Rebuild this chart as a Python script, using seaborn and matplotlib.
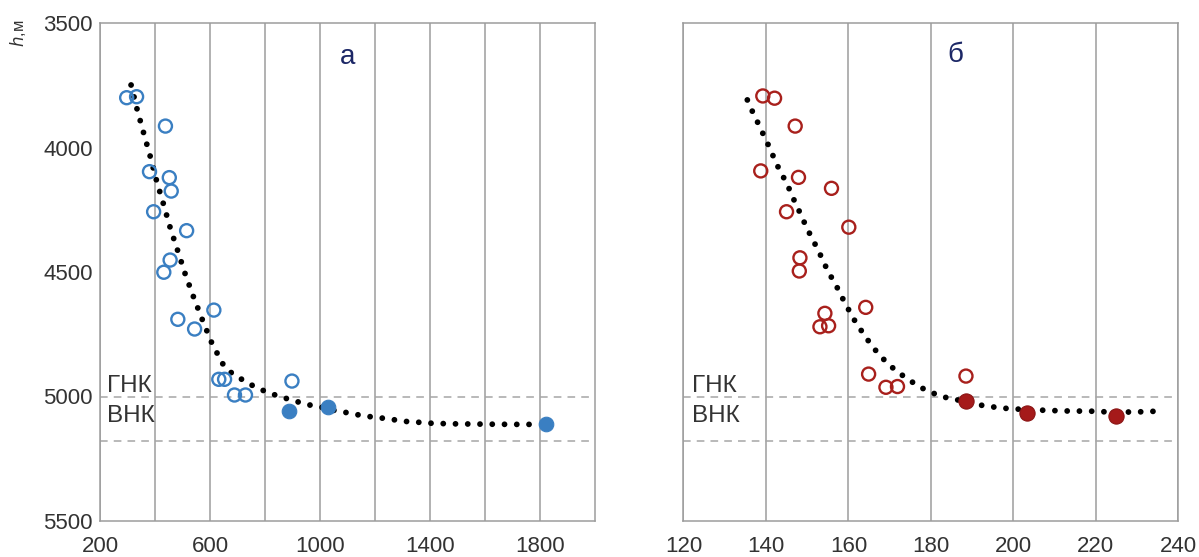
import matplotlib
matplotlib.use("Agg")
import matplotlib.pyplot as plt
from matplotlib.ticker import FixedLocator
import seaborn as sns

# ---------------- data ----------------
left_open_x = [297, 333, 438, 380, 452, 459, 395, 515, 455, 432, 483, 544, 614, 632, 653, 689, 729, 898]
left_open_y = [3800, 3796, 3914, 4097, 4121, 4175, 4258, 4334, 4452, 4501, 4690, 4729, 4653, 4931, 4931, 4994, 4994, 4938]
left_fill_x = [886, 1029, 1820]
left_fill_y = [5058, 5041, 5112]
left_curve_x = [313, 335, 359, 383, 406, 431, 456, 483, 511, 541, 574, 608, 650, 683, 720, 758, 796, 837,
                878, 921, 962, 1005, 1043, 1089, 1135, 1182, 1228, 1273, 1319, 1366, 1412, 1500, 1600, 1700, 1800]
left_curve_y = [3749, 3847, 3943, 4037, 4135, 4228, 4325, 4416, 4512, 4603, 4697, 4789, 4876, 4910, 4934, 4958,
                4977, 4994, 5008, 5022, 5034, 5043, 5054, 5063, 5073, 5081, 5087, 5094, 5101, 5104, 5108, 5110,
                5111, 5112, 5112]

right_open_x = [139.25, 142.1, 147.1, 138.75, 147.9, 155.9, 145.0, 160.1, 148.25, 148.1,
                154.3, 153.1, 155.2, 164.2, 164.9, 169.1, 171.9, 188.5]
right_open_y = [3793, 3802, 3914, 4094, 4120, 4164, 4258, 4320, 4443, 4496,
                4666, 4720, 4716, 4642, 4910, 4963, 4960, 4918]
right_fill_x = [188.5, 203.2, 224.8]
right_fill_y = [5017, 5065, 5078]
right_curve_x = [135.5, 136.75, 138, 139.25, 140.5, 141.75, 143, 144.4, 145.7, 146.9, 148.2, 149.4, 150.7,
                 152.1, 153.4, 154.7, 156.1, 157.6, 158.9, 160.4, 161.9, 163.7, 165.4, 167.3, 169.5, 171.8,
                 174.5, 177.2, 180.0, 182.8, 185.7, 188.8, 191.8, 194.6, 197.6, 200.6, 203.6, 207.0, 212.2,
                 218.8, 224.3, 230.0, 236.6]
right_curve_y = [3809, 3856, 3899, 3943, 3987, 4034, 4080, 4124, 4168, 4214, 4260, 4304, 4349,
                 4394, 4438, 4485, 4528, 4572, 4616, 4662, 4706, 4749, 4790, 4829, 4867, 4900,
                 4931, 4961, 4983, 5001, 5011, 5022, 5034, 5041, 5047, 5050, 5054, 5055, 5058,
                 5059, 5063, 5062, 5058]

gnk_depth = 5000
vnk_depth = 5180
y_ticks = [3500, 4000, 4500, 5000, 5500]
y_grid = [4000, 4500]
left_xticks = [200, 600, 1000, 1400, 1800]
left_xgrid = [400, 800, 1200, 1600]
right_xticks = [120, 140, 160, 180, 200, 220, 240]
panel_labels = ["а", "б"]
contact_labels = ["ГНК", "ВНК"]

# ---------------- style ----------------
sns.set_theme(style="white")
plt.rcParams["font.family"] = ["Liberation Sans", "DejaVu Sans"]

BLUE = "#3a7fc2"
RED = "#a8201c"
RED_FILL = "#a51a1a"
GRID = "#9c9c9c"
TXT = "#333333"
NAVY = "#1c2766"

fig = plt.figure(figsize=(11.99, 5.57), dpi=100)
axL = fig.add_axes([100 / 1199, 1 - 521 / 557, 495 / 1199, 498 / 557])
axR = fig.add_axes([683.4 / 1199, 1 - 521 / 557, 495 / 1199, 498 / 557])

dot_style = dict(color="black", linewidth=4.2, linestyle=(0, (0.001, 2.1)),
                 dash_capstyle="round", sort=False, estimator=None, legend=False)


def style_axes(ax, xlim, xt, xminor):
    ax.set_ylim(5500, 3500)
    ax.set_xlim(*xlim)
    ax.set_yticks(y_ticks)
    ax.yaxis.set_minor_locator(FixedLocator(y_grid))
    ax.set_xticks(xt)
    if xminor:
        ax.xaxis.set_minor_locator(FixedLocator(xminor))
    ax.grid(False)
    ax.grid(axis="x", which="both", color=GRID, linewidth=1.1)
    ax.grid(axis="y", which="minor", color=GRID, linewidth=1.1)
    for s in ax.spines.values():
        s.set_color(GRID)
        s.set_linewidth(1.1)
    ax.tick_params(axis="both", which="both", length=0, labelsize=16, labelcolor=TXT)
    ax.tick_params(axis="x", pad=11)
    ax.tick_params(axis="y", pad=5)
    for yv in (gnk_depth, vnk_depth):
        ax.axhline(yv, color="#a5a5a5", linewidth=1.1, linestyle=(0, (5, 4)), zorder=1.5)
    ax.set_xlabel("")
    ax.set_ylabel("")
    ax.set_axisbelow(True)


# ---- left panel ----
sns.lineplot(x=left_curve_x, y=left_curve_y, ax=axL, zorder=3, **dot_style)
sns.scatterplot(x=left_open_x, y=left_open_y, ax=axL, s=88, facecolors="none",
                edgecolor=BLUE, linewidth=1.7, zorder=4, legend=False)
sns.scatterplot(x=left_fill_x, y=left_fill_y, ax=axL, s=110, color=BLUE,
                edgecolor=BLUE, linewidth=0.8, zorder=4, legend=False)
style_axes(axL, (200, 2000), left_xticks, left_xgrid)

# ---- right panel ----
sns.lineplot(x=right_curve_x, y=right_curve_y, ax=axR, zorder=3, **dot_style)
sns.scatterplot(x=right_open_x, y=right_open_y, ax=axR, s=88, facecolors="none",
                edgecolor=RED, linewidth=1.7, zorder=4, legend=False)
sns.scatterplot(x=right_fill_x, y=right_fill_y, ax=axR, s=120, color=RED_FILL,
                edgecolor="#8a1414", linewidth=0.8, zorder=4, legend=False)
style_axes(axR, (120, 240), right_xticks, None)
axR.set_yticklabels([])

# ---- texts ----
axL.text(1101, 3637, panel_labels[0], fontsize=20, color=NAVY, ha="center", va="center")
axR.text(186, 3628, panel_labels[1], fontsize=20, color=NAVY, ha="center", va="center")

for ax, x0 in ((axL, 227), (axR, 122.2)):
    ax.text(x0, 4980, contact_labels[0], fontsize=17.5, color=TXT, ha="left", va="baseline")
    ax.text(x0, 5101, contact_labels[1], fontsize=17.5, color=TXT, ha="left", va="baseline")

fig.text(17.5 / 1199, 1 - 33.5 / 557, r"$\mathit{h}$,м", rotation=90, fontsize=12,
         color=TXT, ha="center", va="center")

fig.savefig("out.png", dpi=100)
